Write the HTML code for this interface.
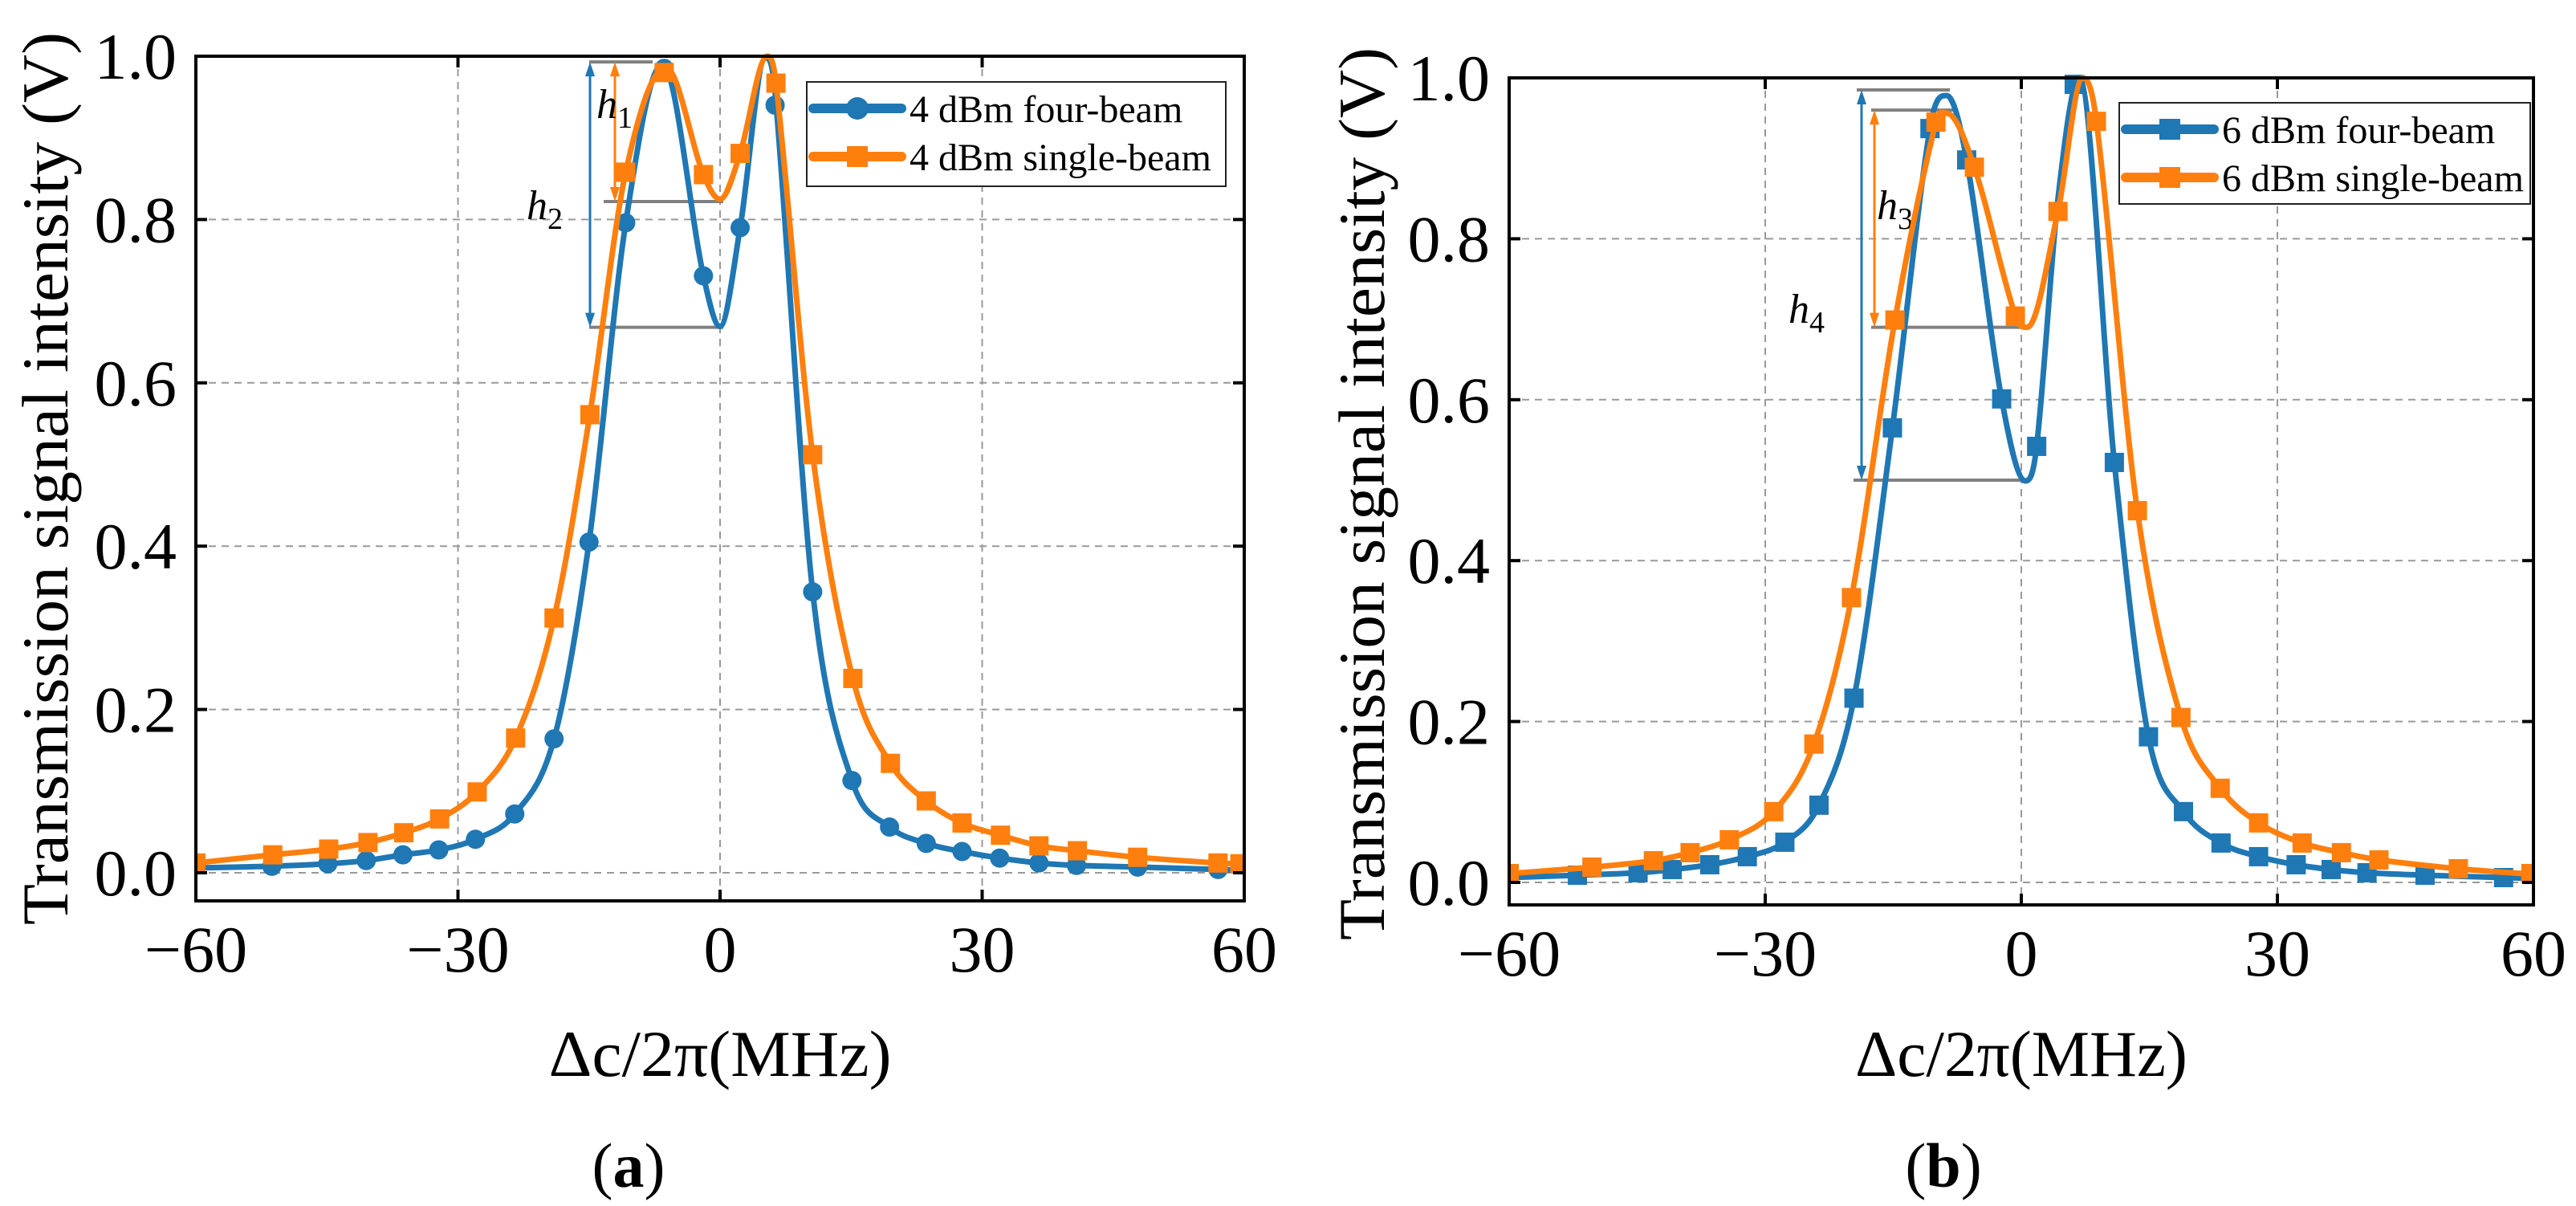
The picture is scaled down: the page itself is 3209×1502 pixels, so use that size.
<!DOCTYPE html>
<html><head><meta charset="utf-8"><style>
html,body{margin:0;padding:0;background:#fff;}
svg{display:block;font-family:"Liberation Serif",serif;}
</style></head><body>
<svg id="fig" width="3209" height="1502" viewBox="0 0 3209 1502" xmlns="http://www.w3.org/2000/svg"></svg>
<script>
// ---- Panel (a) data ----
const aFourLineX=[-60,-51.3,-44.9,-40.5,-36.3,-32.2,-28,-23.5,-19,-15,-10.8,-6.6,-1.9,0,2.3,5.2,6.3,10.6,15.1,19.4,23.6,27.7,32,36.5,40.8,47.8,57,60];
const aFourLineY=[.006,.008,.011,.015,.022,.028,.041,.072,.164,.405,.796,.99,.731,.669,.79,.998,.955,.344,.113,.056,.036,.026,.018,.012,.009,.007,.004,.003];
const aFourMarkX=[-51.3,-44.9,-40.5,-36.3,-32.2,-28,-23.5,-19,-15,-10.8,-6.4,-1.9,2.3,6.3,10.6,15.1,19.4,23.6,27.7,32,36.5,40.8,47.8,57];
const aFourMarkY=[.008,.011,.015,.022,.028,.041,.072,.164,.405,.796,.985,.731,.79,.94,.344,.113,.056,.036,.026,.018,.012,.009,.007,.004];
const aSingLineX=[-60,-51.2,-44.8,-40.3,-36.2,-32.1,-27.8,-23.4,-19,-14.9,-10.8,-6.2,-1.9,0,2.3,5.4,6.4,10.6,15.2,19.5,23.6,27.7,32.1,36.5,40.9,47.8,57,60];
const aSingLineY=[.012,.022,.029,.037,.049,.066,.099,.165,.312,.561,.858,.986,.855,.825,.881,1.0,.967,.512,.238,.134,.088,.061,.046,.033,.027,.019,.012,.011];
const aSingMarkX=[-60,-51.2,-44.8,-40.3,-36.2,-32.1,-27.8,-23.4,-19,-14.9,-10.8,-6.4,-1.9,2.3,6.4,10.6,15.2,19.5,23.6,27.7,32.1,36.5,40.9,47.8,57,59.5];
const aSingMarkY=[.012,.022,.029,.037,.049,.066,.099,.165,.312,.561,.858,.98,.855,.881,.967,.512,.238,.134,.088,.061,.046,.033,.027,.019,.012,.011];
// ---- Panel (b) data ----
const bFourLineX=[-60,-52,-44.9,-40.9,-36.5,-32.1,-27.7,-23.7,-19.6,-15.1,-10.7,-8.75,-6.4,-2.3,0.5,1.8,4.3,6.8,10.9,14.9,19,23.4,27.8,32.2,36.3,40.5,47.3,56.5,60];
const bFourLineY=[.006,.009,.012,.016,.022,.032,.05,.096,.229,.565,.937,.978,.898,.601,.499,.542,.85,1.0,.522,.181,.088,.049,.032,.022,.016,.012,.009,.006,.005];
const bFourMarkX=[-52,-44.9,-40.9,-36.5,-32.1,-27.7,-23.7,-19.6,-15.1,-10.7,-6.4,-2.3,1.8,6.2,10.9,14.9,19,23.4,27.8,32.2,36.3,40.5,47.3,56.5];
const bFourMarkY=[.009,.012,.016,.022,.032,.05,.096,.229,.565,.937,.898,.601,.542,.992,.522,.181,.088,.049,.032,.022,.016,.012,.009,.006];
const bSingLineX=[-60,-50.3,-43.1,-38.8,-34.2,-29,-24.3,-19.9,-14.8,-10,-8.75,-5.5,-0.7,0.7,4.3,7.2,8.8,13.6,18.7,23.3,27.8,32.9,37.5,41.9,51.2,60];
const bSingLineY=[.011,.019,.027,.037,.053,.088,.172,.354,.699,.945,.956,.889,.704,.69,.834,1.0,.946,.462,.205,.117,.074,.049,.037,.028,.017,.01];
const bSingMarkX=[-60,-50.3,-43.1,-38.8,-34.2,-29,-24.3,-19.9,-14.8,-10,-5.5,-0.7,4.3,8.8,13.6,18.7,23.3,27.8,32.9,37.5,41.9,51.2,59.7];
const bSingMarkY=[.011,.019,.027,.037,.053,.088,.172,.354,.699,.945,.889,.704,.834,.946,.462,.205,.117,.074,.049,.037,.028,.017,.011];
const xTicks=[-60,-30,0,30,60];
const yTicks=[0,0.2,0.4,0.6,0.8,1.0];
const yTickLabels=["0.0","0.2","0.4","0.6","0.8","1.0"];

const NS="http://www.w3.org/2000/svg";
const svg=document.getElementById('fig');
const BLUE="#1f77b4", ORANGE="#ff7f0e";
function mk(tag,attrs,parent){const e=document.createElementNS(NS,tag);for(const k in attrs)e.setAttribute(k,attrs[k]);(parent||svg).appendChild(e);return e;}
function tangent(pts,i){
  const n=pts.length;
  if(i===0) return [pts[1][0]-pts[0][0],pts[1][1]-pts[0][1]];
  if(i===n-1) return [pts[n-1][0]-pts[n-2][0],pts[n-1][1]-pts[n-2][1]];
  const a=pts[i-1],b=pts[i],c=pts[i+1];
  const dx=(c[0]-a[0])/2;
  if((b[1]-a[1])*(c[1]-b[1])<=0) return [dx,0];
  return [dx,(c[1]-a[1])/2];
}
function smooth(pts){
  let d="M"+pts[0][0].toFixed(1)+","+pts[0][1].toFixed(1);
  for(let i=0;i<pts.length-1;i++){
    const p1=pts[i],p2=pts[i+1];
    const t1=tangent(pts,i),t2=tangent(pts,i+1);
    const h=(p2[0]-p1[0]);
    const s1=t1[0]?h/t1[0]:0, s2=t2[0]?h/t2[0]:0;
    const c1=[p1[0]+t1[0]*s1/3,p1[1]+t1[1]*s1/3];
    const c2=[p2[0]-t2[0]*s2/3,p2[1]-t2[1]*s2/3];
    d+=" C"+c1[0].toFixed(1)+","+c1[1].toFixed(1)+" "+c2[0].toFixed(1)+","+c2[1].toFixed(1)+" "+p2[0].toFixed(1)+","+p2[1].toFixed(1);
  }
  return d;
}
function panel(cfg){
  const g=mk('g',{});
  
  
  const X=v=>cfg.L+(v+60)/120*(cfg.R-cfg.L);
  const Y=v=>cfg.Y0-v*(cfg.Y0-cfg.Y1);
  const cid='clip-'+cfg.name;
  const cp=mk('clipPath',{id:cid},g);
  mk('rect',{x:cfg.L,y:cfg.T-4,width:cfg.R-cfg.L,height:cfg.B-cfg.T+4},cp);
  xTicks.slice(1,-1).forEach(v=>{const l=mk('line',{x1:X(v),x2:X(v),y1:cfg.T,y2:cfg.B,stroke:'#999','stroke-width':2,'stroke-dasharray':'9,7'},g);
    });
  yTicks.slice(0,-1).forEach(v=>{const l=mk('line',{x1:cfg.L,x2:cfg.R,y1:Y(v),y2:Y(v),stroke:'#999','stroke-width':2,'stroke-dasharray':'9,7'},g);
    });
  const an=mk('g',{},g);
  
  
  cfg.hlines.forEach(h=>mk('line',{x1:h[0],x2:h[1],y1:Y(h[2]),y2:Y(h[2]),stroke:'#808080','stroke-width':4},an));
  cfg.arrows.forEach(a=>{
    const y1=Y(a[1]),y2=Y(a[2]);
    mk('line',{x1:a[0],x2:a[0],y1:y1+12,y2:y2-12,stroke:a[3],'stroke-width':3},an);
    mk('polygon',{points:`${a[0]},${y1} ${a[0]-6},${y1+18} ${a[0]+6},${y1+18}`,fill:a[3]},an);
    mk('polygon',{points:`${a[0]},${y2} ${a[0]-6},${y2-18} ${a[0]+6},${y2-18}`,fill:a[3]},an);
  });
  cfg.hlabels.forEach(h=>{const t=mk('text',{x:h[0],y:h[1],'font-size':52,'font-style':'italic'},an);
    t.innerHTML=h[2]+'<tspan font-size="38" font-style="normal" dy="12">'+h[3]+'</tspan>';});
  const sg=mk('g',{'clip-path':`url(#${cid})`},g);
  cfg.series.forEach(s=>{
    const pts=s.lx.map((x,i)=>[X(x),Y(s.ly[i])]);
    const p=mk('path',{d:smooth(pts),fill:'none',stroke:s.color,'stroke-width':7,'stroke-linejoin':'round'},sg);
    
    
    s.mx.forEach((x,i)=>{
      let m;
      if(s.shape==='circle') m=mk('circle',{cx:X(x),cy:Y(s.my[i]),r:12,fill:s.color},sg);
      else m=mk('rect',{x:X(x)-12,y:Y(s.my[i])-12,width:24,height:24,fill:s.color},sg);
      
      
    });
  });
  const fr=mk('rect',{x:cfg.L,y:cfg.T,width:cfg.R-cfg.L,height:cfg.B-cfg.T,fill:'none',stroke:'#000','stroke-width':4},g);
  
  
  xTicks.forEach(v=>{
    mk('line',{x1:X(v),x2:X(v),y1:cfg.B,y2:cfg.B-14,stroke:'#000','stroke-width':4},g);
    mk('line',{x1:X(v),x2:X(v),y1:cfg.T,y2:cfg.T+14,stroke:'#000','stroke-width':4},g);
    const t=mk('text',{x:X(v),y:cfg.B+88,'font-size':82,'text-anchor':'middle'},g);
    t.textContent=(v<0?'\u2212':'')+Math.abs(v);
    
    
  });
  yTicks.forEach((v,i)=>{
    mk('line',{x1:cfg.L,x2:cfg.L+14,y1:Y(v),y2:Y(v),stroke:'#000','stroke-width':4},g);
    mk('line',{x1:cfg.R,x2:cfg.R-14,y1:Y(v),y2:Y(v),stroke:'#000','stroke-width':4},g);
    const t=mk('text',{x:cfg.L-24,y:Y(v)+28,'font-size':82,'text-anchor':'end'},g);
    t.textContent=yTickLabels[i];
    
    
  });
  const yt=mk('text',{x:0,y:0,'font-size':82,'text-anchor':'middle',textLength:1112,lengthAdjust:'spacingAndGlyphs',transform:`translate(${cfg.ytx},${cfg.yty}) rotate(-90)`},g);
  yt.textContent='Transmission signal intensity (V)';
  
  
  const xt=mk('text',{x:cfg.xtx,y:1340,'font-size':82,'text-anchor':'middle',textLength:cfg.xtw,lengthAdjust:'spacingAndGlyphs'},g);
  xt.textContent='\u0394c/2\u03c0(MHz)';
  
  
  const cap=mk('text',{x:cfg.capx,y:1478,'font-size':78,'text-anchor':'middle'},g);
  cap.innerHTML='(<tspan font-weight="bold">'+cfg.cap+'</tspan>)';
  
  
  const lg=mk('g',{},g);
  
  
  const Lb=cfg.leg;
  mk('rect',{x:Lb[0],y:Lb[1],width:Lb[2]-Lb[0],height:Lb[3]-Lb[1],fill:'#fff',stroke:'#222','stroke-width':2},lg);
  cfg.series.forEach((s,i)=>{
    const ry=Lb[1]+33+i*60;
    const e=mk('g',{},lg);
    
    
    mk('line',{x1:Lb[0]+8,x2:Lb[0]+118,y1:ry,y2:ry,stroke:s.color,'stroke-width':12,'stroke-linecap':'round'},e);
    if(s.shape==='circle') mk('circle',{cx:Lb[0]+63,cy:ry,r:14,fill:s.color},e);
    else mk('rect',{x:Lb[0]+50,y:ry-13,width:26,height:26,fill:s.color},e);
    const t=mk('text',{x:Lb[0]+128,y:ry+17,'font-size':48},e);
    t.textContent=s.label;
  });
}
panel({name:'panel-a',L:244,R:1550,T:70,B:1122,Y0:1087,Y1:70,ytx:84,yty:596,xtx:897,xtw:427,capx:783,cap:'a',
  leg:[1005,102,1527,232],
  hlines:[[734,813,0.993],[752,901,0.822],[734,901,0.668]],
  arrows:[[735,0.993,0.668,BLUE],[766,0.993,0.822,ORANGE]],
  hlabels:[[743,147,'h','1'],[656,273,'h','2']],
  series:[
    {key:'a-four-beam',label:'4 dBm four-beam',color:BLUE,shape:'circle',lx:aFourLineX,ly:aFourLineY,mx:aFourMarkX,my:aFourMarkY},
    {key:'a-single-beam',label:'4 dBm single-beam',color:ORANGE,shape:'square',lx:aSingLineX,ly:aSingLineY,mx:aSingMarkX,my:aSingMarkY}
  ]});
panel({name:'panel-b',L:1880,R:3156,T:97,B:1127,Y0:1099,Y1:97,ytx:1724,yty:615,xtx:2518,xtw:414,capx:2421,cap:'b',
  leg:[2640,128,3152,254],
  hlines:[[2313,2429,0.985],[2331,2434,0.96],[2331,2520,0.69],[2309,2521,0.5]],
  arrows:[[2319,0.985,0.5,BLUE],[2335,0.96,0.69,ORANGE]],
  hlabels:[[2338,273,'h','3'],[2228,402,'h','4']],
  series:[
    {key:'b-four-beam',label:'6 dBm four-beam',color:BLUE,shape:'square',lx:bFourLineX,ly:bFourLineY,mx:bFourMarkX,my:bFourMarkY},
    {key:'b-single-beam',label:'6 dBm single-beam',color:ORANGE,shape:'square',lx:bSingLineX,ly:bSingLineY,mx:bSingMarkX,my:bSingMarkY}
  ]});
</script>
</body></html>
